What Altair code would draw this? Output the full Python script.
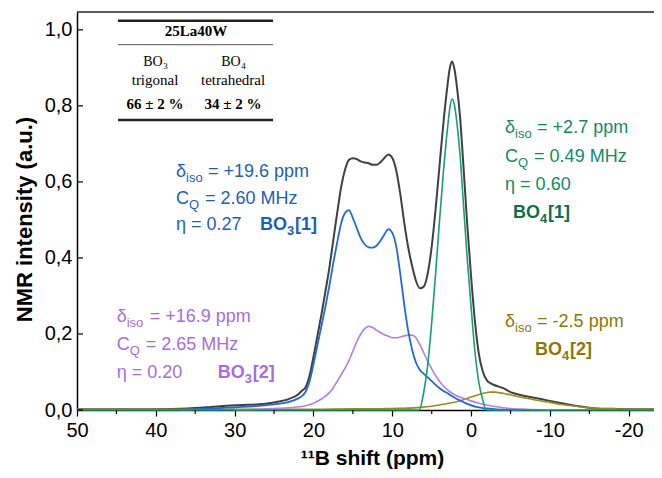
import altair as alt
import pandas as pd

# ---------------- data ----------------
tot_ppm = [50, 40, 36, 33, 31, 29, 27, 25, 23, 22, 21.5, 21, 20.5, 20, 19.5, 19, 18.5, 18, 17.5, 17,
           16.5, 16, 15.5, 15, 14.5, 14, 13.5, 13, 12.5, 12, 11.5, 11, 10.5, 10, 9.5, 9, 8.5, 8, 7.5, 7,
           6.5, 6, 5.5, 5, 4.5, 4, 3.5, 3, 2.7, 2.4, 2.1, 1.8, 1.4, 1, 0.5, 0, -0.5, -1, -1.5, -2,
           -2.5, -3, -4, -5, -6, -7, -8, -9, -10, -11, -12, -13, -14, -15, -16, -18, -20, -23.2]
tot_int = [0.002, 0.002, 0.004, 0.008, 0.011, 0.013, 0.015, 0.02, 0.03, 0.04, 0.05, 0.06, 0.09, 0.14, 0.195, 0.25, 0.31, 0.372, 0.445, 0.517,
           0.585, 0.632, 0.658, 0.662, 0.66, 0.654, 0.651, 0.649, 0.645, 0.645, 0.652, 0.663, 0.672, 0.663, 0.63, 0.57, 0.495, 0.43, 0.38, 0.34,
           0.32, 0.325, 0.36, 0.43, 0.53, 0.645, 0.758, 0.854, 0.9, 0.917, 0.895, 0.85, 0.77, 0.65, 0.49, 0.35, 0.23, 0.145, 0.1, 0.078,
           0.07, 0.065, 0.058, 0.047, 0.041, 0.036, 0.032, 0.028, 0.024, 0.02, 0.016, 0.012, 0.009, 0.006, 0.004, 0.003, 0.002, 0.002]

bo3a_ppm = [37, 33, 31, 29, 27, 25, 23, 22, 21.5, 21, 20.5, 20, 19.5, 19, 18.5, 18, 17.5, 17, 16.5, 16,
            15.5, 15, 14.5, 14, 13.5, 13, 12.5, 12, 11.5, 11, 10.5, 10, 9.5, 9, 8.5, 8, 7.5, 7, 6.5, 6,
            5.5, 5, 4.5, 4, 3.5, 3, 2.4, 1.8, 1, 0.5, 0, -0.5, -1, -1.5, -2, -3, -4, -6]
bo3a_int = [0, 0.004, 0.006, 0.008, 0.011, 0.015, 0.022, 0.03, 0.036, 0.048, 0.075, 0.12, 0.17, 0.22, 0.27, 0.325, 0.385, 0.44, 0.49, 0.518,
            0.526, 0.505, 0.478, 0.452, 0.436, 0.428, 0.427, 0.432, 0.445, 0.462, 0.476, 0.466, 0.43, 0.36, 0.28, 0.21, 0.16, 0.125, 0.105, 0.095,
            0.086, 0.076, 0.066, 0.057, 0.05, 0.044, 0.036, 0.029, 0.021, 0.016, 0.012, 0.009, 0.007, 0.005, 0.004, 0.002, 0.001, 0]

bo3b_ppm = [30, 27, 25, 23, 21, 20, 19, 18, 17.5, 17, 16.5, 16, 15.5, 15, 14.5, 14, 13.5, 13, 12.5, 12,
            11.5, 11, 10.5, 10, 9.5, 9, 8.5, 8, 7.5, 7, 6.5, 6, 5.5, 5, 4.5, 4, 3.5, 3, 2.4, 1.8,
            1, 0, -1, -2, -3, -4, -5, -7, -10]
bo3b_int = [0, 0.002, 0.004, 0.006, 0.011, 0.018, 0.029, 0.045, 0.058, 0.075, 0.092, 0.11, 0.13, 0.155, 0.18, 0.2, 0.214, 0.22, 0.217, 0.21,
            0.204, 0.198, 0.194, 0.19, 0.19, 0.192, 0.195, 0.197, 0.197, 0.19, 0.172, 0.15, 0.128, 0.108, 0.09, 0.075, 0.063, 0.053, 0.044, 0.037,
            0.031, 0.024, 0.018, 0.013, 0.009, 0.006, 0.004, 0.002, 0]

bo4a_ppm = [50, 7, 6.6, 6, 5.5, 5, 4.5, 4, 3.5, 3, 2.7, 2.4, 2.1, 1.8, 1.4, 1, 0.5, 0, -0.5, -1,
            -1.5, -1.9, -10, -23.2]
bo4a_int = [0, 0, 0, 0.048, 0.12, 0.23, 0.36, 0.5, 0.63, 0.74, 0.795, 0.818, 0.8, 0.755, 0.67, 0.55, 0.4, 0.27, 0.15, 0.07,
            0.025, 0, 0, 0]

bo4b_ppm = [50, 30, 20, 15, 12, 10, 8, 6.5, 5, 4, 3, 2, 1, 0, -1, -2, -2.5, -3, -4, -5,
            -6, -7, -8, -9, -10, -11, -12, -13, -14, -15, -16, -18, -20, -23.2]
bo4b_int = [0.002, 0.002, 0.002, 0.003, 0.003, 0.004, 0.005, 0.007, 0.01, 0.013, 0.017, 0.021, 0.027, 0.034, 0.041, 0.046, 0.047, 0.047, 0.044, 0.04,
            0.035, 0.031, 0.027, 0.023, 0.02, 0.016, 0.013, 0.011, 0.008, 0.006, 0.004, 0.003, 0.002, 0.002]

x_ticks = [50, 40, 30, 20, 10, 0, -10, -20]
x_minor = [45, 35, 25, 15, 5, -5, -15]
y_ticks = [0.0, 0.2, 0.4, 0.6, 0.8, 1.0]

# ---------------- layout / style ----------------
W, H = 577, 398
X_MIN, X_MAX = -23.2, 50
Y_MAX = 1.047
FONT = "Liberation Sans"
SERIF = "Liberation Serif"

BLACK_LINE = "#404040"
BLUE_LINE, BLUE_TXT = "#1f6ad4", "#1d5fb5"
PURPLE_LINE, PURPLE_TXT = "#b57ee0", "#a66ddf"
GREEN_LINE, GREEN_TXT, GREEN_BOLD = "#17a06c", "#118a65", "#0d6e4e"
OLIVE_LINE, OLIVE_TXT = "#9a8a18", "#8a7808"

xscale = alt.Scale(domain=[X_MIN, X_MAX], reverse=True, nice=False, zero=False)
yscale = alt.Scale(domain=[0, Y_MAX], nice=False, zero=False)

x_axis = alt.Axis(
    values=x_ticks, labelExpr="'' + datum.value", title="¹¹B shift (ppm)",
    labelFont=FONT, labelFontSize=20, labelColor="black", labelPadding=4, labelFlush=False,
    tickSize=6, tickWidth=1.2, tickColor="black", domainColor="black", domainWidth=1.5,
    titleFont=FONT, titleFontSize=21, titleFontWeight="bold", titleColor="black",
    titlePadding=7, titleX=295, grid=False,
)
y_axis = alt.Axis(
    values=y_ticks, labelExpr="replace(format(datum.value, '.1f'), '.', ',')",
    title="NMR intensity (a.u.)", ticks=False, labelFlush=False,
    labelFont=FONT, labelFontSize=20, labelColor="black", labelPadding=5,
    domainColor="black", domainWidth=1.5,
    titleFont=FONT, titleFontSize=22, titleFontWeight="bold", titleColor="black",
    titlePadding=8, titleY=207, grid=False,
)


def xenc(field="x"):
    return alt.X(f"{field}:Q", scale=xscale, axis=x_axis)


def yenc(field="y"):
    return alt.Y(f"{field}:Q", scale=yscale, axis=y_axis)


def curve(ppm, vals, color, width):
    df = pd.DataFrame({"x": ppm, "y": vals})
    return alt.Chart(df).mark_line(color=color, strokeWidth=width, interpolate="monotone").encode(
        x=xenc(), y=yenc())


def piece(x, y, text, color, size=18, bold=False, dx=0, dy=0, font=FONT, align="left"):
    df = pd.DataFrame({"x": [x], "y": [y], "t": [text]})
    return alt.Chart(df).mark_text(
        align=align, baseline="alphabetic", dx=dx, dy=dy, fontSize=size,
        fontWeight="bold" if bold else "normal", font=font, color=color,
    ).encode(x=xenc(), y=yenc(), text="t:N")


def hline(x1, x2, y, width, color="#222222"):
    df = pd.DataFrame({"x": [x1], "x2": [x2], "y": [y]})
    return alt.Chart(df).mark_rule(color=color, strokeWidth=width).encode(
        x=xenc(), x2=alt.X2("x2:Q"), y=yenc())


layers = [
    curve(tot_ppm, tot_int, BLACK_LINE, 2.0),
    curve(bo4b_ppm, bo4b_int, OLIVE_LINE, 1.6),
    curve(bo3b_ppm, bo3b_int, PURPLE_LINE, 1.6),
    curve(bo3a_ppm, bo3a_int, BLUE_LINE, 1.8),
    curve(bo4a_ppm, bo4a_int, GREEN_LINE, 1.6),
]

# inward y ticks, minor x ticks, top frame line
layers.append(alt.Chart(pd.DataFrame({"y": y_ticks})).mark_rule(color="black", strokeWidth=1.2).encode(
    y=yenc(), x=alt.value(0), x2=alt.value(6)))
layers.append(alt.Chart(pd.DataFrame({"x": x_minor})).mark_rule(color="black", strokeWidth=1.2).encode(
    x=xenc(), y=alt.value(H), y2=alt.value(H + 4)))
layers.append(alt.Chart(pd.DataFrame({"a": [0]})).mark_rule(color="#222222", strokeWidth=1.5).encode(
    x=alt.value(0), x2=alt.value(W), y=alt.value(0)))

# ---- table ----
layers += [
    hline(44.8, 25.13, 1.024, 2.5),
    hline(44.8, 25.13, 0.961, 1.0, "#555555"),
    hline(44.8, 25.13, 0.763, 2.5),
    piece(34.9, 0.984, "25La40W", "black", 15, True, font=SERIF, align="center"),
    piece(41.6, 0.905, "BO", "black", 14, font=SERIF),
    piece(41.6, 0.905, "3", "black", 9, font=SERIF, dx=20, dy=3),
    piece(31.7, 0.905, "BO", "black", 14, font=SERIF),
    piece(31.7, 0.905, "4", "black", 9, font=SERIF, dx=20, dy=3),
    piece(40.1, 0.855, "trigonal", "black", 15, font=SERIF, align="center"),
    piece(30.2, 0.855, "tetrahedral", "black", 15, font=SERIF, align="center"),
    piece(40.1, 0.791, "66 ± 2 %", "black", 15, True, font=SERIF, align="center"),
    piece(30.2, 0.791, "34 ± 2 %", "black", 15, True, font=SERIF, align="center"),
]

# ---- BO3[1] (blue) ----
bx = 37.44
layers += [
    piece(bx, 0.613, "δ", BLUE_TXT), piece(bx, 0.613, "iso", BLUE_TXT, 13, dx=10, dy=5),
    piece(bx, 0.613, "= +19.6 ppm", BLUE_TXT, dx=32),
    piece(bx, 0.542, "C", BLUE_TXT), piece(bx, 0.542, "Q", BLUE_TXT, 13, dx=13, dy=5),
    piece(bx, 0.542, "= 2.60 MHz", BLUE_TXT, dx=29),
    piece(bx, 0.474, "η = 0.27", BLUE_TXT),
    piece(bx, 0.474, "BO", BLUE_TXT, bold=True, dx=84),
    piece(bx, 0.474, "3", BLUE_TXT, 13, True, dx=111, dy=5),
    piece(bx, 0.474, "[1]", BLUE_TXT, bold=True, dx=119),
]

# ---- BO4[1] (green) ----
gx = -4.31
layers += [
    piece(gx, 0.729, "δ", GREEN_TXT), piece(gx, 0.729, "iso", GREEN_TXT, 13, dx=10, dy=5),
    piece(gx, 0.729, "= +2.7 ppm", GREEN_TXT, dx=32),
    piece(gx, 0.653, "C", GREEN_TXT), piece(gx, 0.653, "Q", GREEN_TXT, 13, dx=13, dy=5),
    piece(gx, 0.653, "= 0.49 MHz", GREEN_TXT, dx=29),
    piece(gx, 0.579, "η = 0.60", GREEN_TXT),
    piece(gx, 0.505, "BO", GREEN_BOLD, bold=True, dx=8),
    piece(gx, 0.505, "4", GREEN_BOLD, 13, True, dx=35, dy=5),
    piece(gx, 0.505, "[1]", GREEN_BOLD, bold=True, dx=43),
]

# ---- BO3[2] (purple) ----
px_ = 44.96
layers += [
    piece(px_, 0.232, "δ", PURPLE_TXT), piece(px_, 0.232, "iso", PURPLE_TXT, 13, dx=10, dy=5),
    piece(px_, 0.232, "= +16.9 ppm", PURPLE_TXT, dx=33),
    piece(px_, 0.158, "C", PURPLE_TXT), piece(px_, 0.158, "Q", PURPLE_TXT, 13, dx=13, dy=5),
    piece(px_, 0.158, "= 2.65 MHz", PURPLE_TXT, dx=29),
    piece(px_, 0.084, "η = 0.20", PURPLE_TXT),
    piece(px_, 0.084, "BO", PURPLE_TXT, bold=True, dx=101),
    piece(px_, 0.084, "3", PURPLE_TXT, 13, True, dx=128, dy=5),
    piece(px_, 0.084, "[2]", PURPLE_TXT, bold=True, dx=136),
]

# ---- BO4[2] (olive) ----
ox = -4.31
layers += [
    piece(ox, 0.218, "δ", OLIVE_TXT), piece(ox, 0.218, "iso", OLIVE_TXT, 13, dx=10, dy=5),
    piece(ox, 0.218, "= -2.5 ppm", OLIVE_TXT, dx=32),
    piece(ox, 0.145, "BO", OLIVE_TXT, bold=True, dx=30),
    piece(ox, 0.145, "4", OLIVE_TXT, 13, True, dx=57, dy=5),
    piece(ox, 0.145, "[2]", OLIVE_TXT, bold=True, dx=65),
]

chart = alt.layer(*layers).properties(
    width=W, height=H,
    padding={"left": 69, "top": 4, "right": 0, "bottom": 60},
    autosize=alt.AutoSizeParams(type="none"),
).configure_view(stroke=None).configure_axis(grid=False)

chart.save("out.html", embed_options={"renderer": "svg", "actions": False})
